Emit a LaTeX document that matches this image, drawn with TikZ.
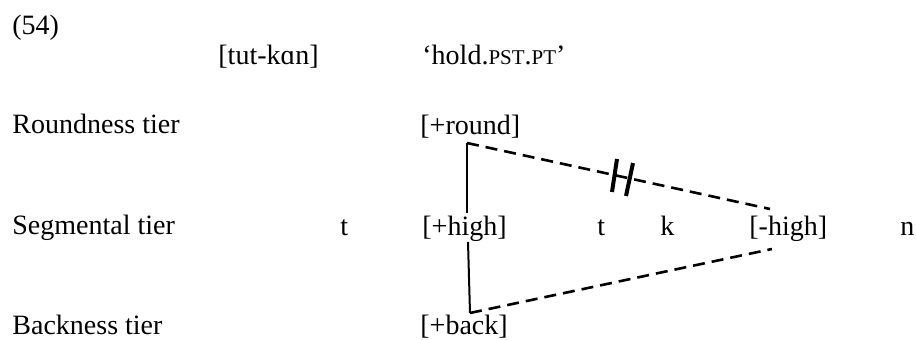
\documentclass[tikz,border=0pt]{standalone}
\usepackage{fontspec}
\setmainfont{Liberation Serif}
\newcommand{\gl}[1]{{\fontsize{10.5}{12}\selectfont #1}}
\tikzset{
  tier/.style={anchor=base west, inner sep=0pt},
  spread/.style={line width=1.3pt, dash pattern=on 6pt off 3.5pt},
  link/.style={line width=1pt},
  cut/.style={line width=2pt}
}
\begin{document}
\begin{tikzpicture}[x=0.5pt, y=-0.5pt, font=\fontsize{14}{17}\selectfont]
                \useasboundingbox (0,0) rectangle (916,340);
                \node[tier] (num) at (12,35) {(54)};
                \node[tier] (form) at (218,65) {[tut-kɑn]};
                \node[tier] (gloss) at (422,65) {‘hold.\gl{PST}.\gl{PT}’};
                \node[tier] (lround) at (12,134) {Roundness tier};
                \node[tier] (round) at (420,135) {[+round]};
                \node[tier] (lseg) at (12,235) {Segmental tier};
                \node[tier] (t1) at (340,236) {t};
                \node[tier] (high) at (422,236) {[+high]};
                \node[tier] (t2) at (597,236) {t};
                \node[tier] (k) at (660,236) {k};
                \node[tier] (low) at (749,236) {[-high]};
                \node[tier] (n) at (900,236) {n};
                \node[tier] (lback) at (12,335) {Backness tier};
                \node[tier] (back) at (420,335) {[+back]};
                \coordinate (R) at (467,143);
                \coordinate (H1) at (467,213);
                \coordinate (H2) at (468,242);
                \coordinate (B) at (470,313);
                \coordinate (L1) at (770,209);
                \coordinate (L2) at (772,249);
                \draw[link] (R) -- (H1);
                \draw[link] (H2) -- (B);
                \draw[spread] (R) -- (L1);
                \draw[spread] (B) -- (L2);
                \draw[cut] (617,159) -- (612,192);
                \draw[cut] (633,163) -- (626,196);
            \end{tikzpicture}
\end{document}
